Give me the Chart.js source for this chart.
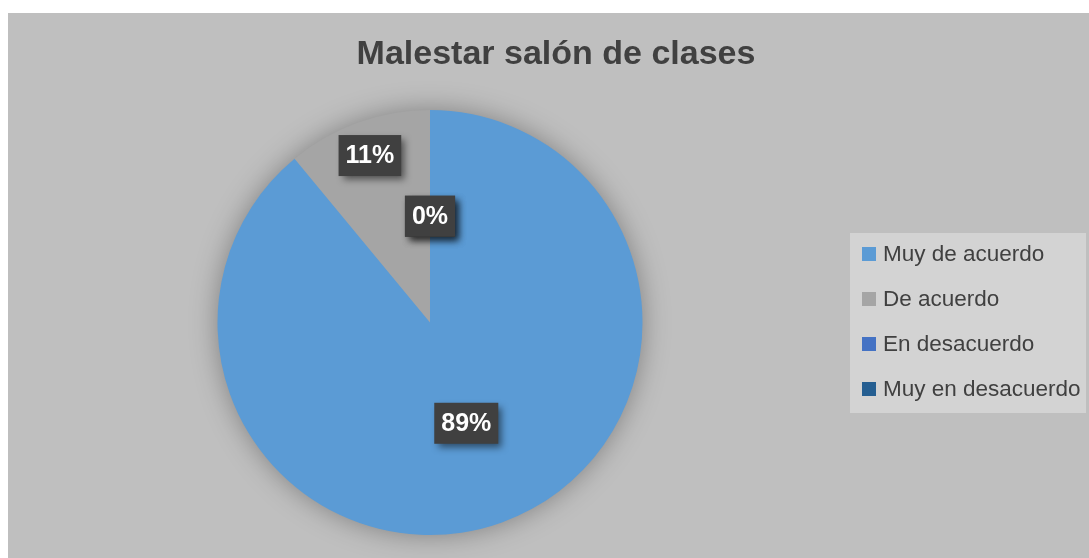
<!DOCTYPE html>
<html>
<head>
<meta charset="utf-8">
<script src="https://cdn.jsdelivr.net/npm/chart.js@4"></script>
<style>
  html, body { margin: 0; padding: 0; background: #fff; overflow: hidden; }
  #wrap { position: absolute; left: 8px; top: 13px; width: 1096px; height: 545px; }
</style>
</head>
<body>
<div id="wrap"><canvas id="myChart" width="1096" height="545"></canvas></div>
<script>
var categories = ['Muy de acuerdo', 'De acuerdo', 'En desacuerdo', 'Muy en desacuerdo'];
var percentages = [89, 11, 0, 0];
var sliceColors = ['#5b9bd5', '#a5a5a5', '#4472c4', '#255e91'];
var chartTitle = 'Malestar salón de clases';

// where each label sits along the radius (fraction of outer radius)
var labelRadius = [0.504, 0.835, 0.5, 0.5];

var bgPlugin = {
  id: 'bg',
  beforeDraw: function (chart) {
    var c = chart.ctx;
    c.save();
    c.fillStyle = '#bfbfbf';
    c.fillRect(0, 0, chart.width, chart.height);
    // title, centred on the whole canvas
    c.fillStyle = '#404040';
    c.font = 'bold 34px "Liberation Sans", Arial, sans-serif';
    c.textAlign = 'center';
    c.textBaseline = 'middle';
    c.fillText(chartTitle, chart.width / 2, 42);
    c.restore();
  },
  beforeDatasetsDraw: function (chart) {
    // soft shadow behind the pie
    var arc = chart.getDatasetMeta(0).data[0];
    var c = chart.ctx;
    c.save();
    c.shadowColor = 'rgba(0,0,0,0.35)';
    c.shadowBlur = 28;
    c.fillStyle = '#5b9bd5';
    c.beginPath();
    c.arc(arc.x, arc.y, arc.outerRadius - 1, 0, Math.PI * 2);
    c.fill();
    c.restore();
  }
};

var labelPlugin = {
  id: 'boxLabels',
  afterDatasetsDraw: function (chart) {
    var c = chart.ctx;
    var meta = chart.getDatasetMeta(0);
    c.save();
    c.font = 'bold 25px "Liberation Sans", Arial, sans-serif';
    c.textAlign = 'center';
    c.textBaseline = 'middle';
    meta.data.forEach(function (arc, i) {
      var mid = (arc.startAngle + arc.endAngle) / 2;
      var r = arc.outerRadius * labelRadius[i];
      var x = arc.x + Math.cos(mid) * r;
      var y = arc.y + Math.sin(mid) * r;
      var txt = percentages[i] + '%';
      var w = c.measureText(txt).width + 14;
      var h = 41;
      c.save();
      c.shadowColor = 'rgba(0,0,0,0.5)';
      c.shadowBlur = 7;
      c.shadowOffsetX = 4;
      c.shadowOffsetY = 4;
      c.fillStyle = '#404040';
      c.fillRect(x - w / 2, y - h / 2, w, h);
      c.restore();
      c.fillStyle = '#ffffff';
      c.fillText(txt, x, y + 1);
    });
    c.restore();
  }
};

var legendPlugin = {
  id: 'sideLegend',
  afterDraw: function (chart) {
    var c = chart.ctx;
    c.save();
    c.fillStyle = '#d3d3d3';
    c.fillRect(842, 220, 236, 180);
    c.font = '22.5px "Liberation Sans", Arial, sans-serif';
    c.textBaseline = 'middle';
    categories.forEach(function (lab, i) {
      var y = 241 + i * 45;
      c.fillStyle = sliceColors[i];
      c.fillRect(854, y - 7, 14, 14);
      c.fillStyle = '#404040';
      c.fillText(lab, 875, y + 1);
    });
    c.restore();
  }
};

var ctx = document.getElementById('myChart').getContext('2d');
var myChart = new Chart(ctx, {
  type: 'pie',
  data: {
    labels: categories,
    datasets: [{
      data: percentages,
      backgroundColor: sliceColors,
      borderWidth: 0
    }]
  },
  options: {
    responsive: false,
    animation: false,
    layout: {
      padding: { left: 0, right: 252, top: 97, bottom: 23 }
    },
    plugins: {
      legend: { display: false },
      tooltip: { enabled: false },
      title: { display: false }
    }
  },
  plugins: [bgPlugin, labelPlugin, legendPlugin]
});
</script>
</body>
</html>
